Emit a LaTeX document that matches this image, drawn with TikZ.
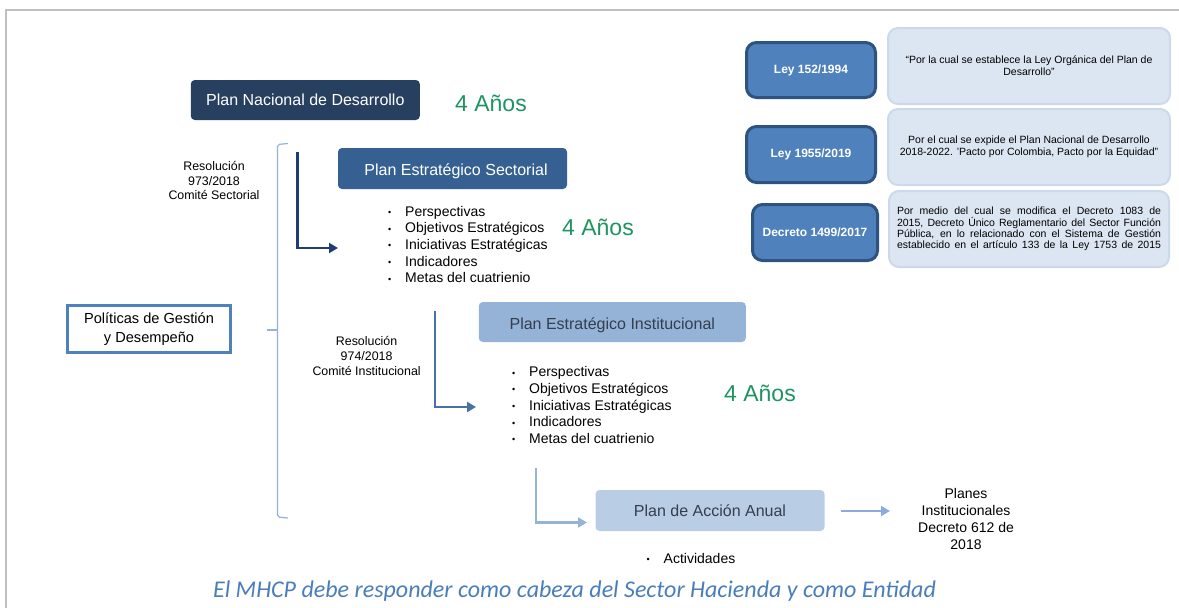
\documentclass[tikz,border=0pt]{standalone}
\usepackage{fontspec}
\setmainfont{Liberation Sans}
\newfontfamily\titlefont{Carlito}
\usetikzlibrary{arrows.meta}
\definecolor{framec}{HTML}{BFBFBF}
\definecolor{pndc}{HTML}{27405F}
\definecolor{pesc}{HTML}{376092}
\definecolor{peic}{HTML}{95B3D7}
\definecolor{paac}{HTML}{B9CDE5}
\definecolor{dtext}{HTML}{333F4F}
\definecolor{greenc}{HTML}{1E9461}
\definecolor{arrA}{HTML}{1F3C74}
\definecolor{arrB}{HTML}{4671AB}
\definecolor{arrC}{HTML}{95B3D7}
\definecolor{arrD}{HTML}{8FAADC}
\definecolor{bracec}{HTML}{95B3D7}
\definecolor{leyfill}{HTML}{4F81BD}
\definecolor{leyborder}{HTML}{2F5380}
\definecolor{descfill}{HTML}{DCE6F2}
\definecolor{descborder}{HTML}{CCD9EB}
\definecolor{polc}{HTML}{4F81BD}
\definecolor{titlec}{HTML}{4A7EBB}
\newcommand\mybul{\makebox[17pt][l]{\raisebox{0.6pt}{\fontsize{9}{9}\selectfont\char"2022}}}
\begin{document}
\begin{tikzpicture}[x=1pt,y=-1pt,
  planbox/.style={rectangle, rounded corners=4pt, inner sep=0pt, font=\fontsize{16}{19}\selectfont, minimum height=40pt},
  anos/.style={text=greenc, inner sep=0pt, font=\fontsize{23}{27}\selectfont},
  bullist/.style={anchor=west, inner sep=0pt, align=left, font=\fontsize{14}{16.6}\selectfont},
  restext/.style={inner sep=0pt, align=center, font=\fontsize{12.4}{14.8}\selectfont},
  arrowline/.style={line width=2.5pt, -{Triangle[length=9pt,width=10pt]}},
  leybox/.style={rectangle, rounded corners=10pt, fill=leyfill, draw=leyborder, line width=3pt, text=white, inner sep=0pt, font=\bfseries\fontsize{12}{14}\selectfont},
  descbox/.style={rectangle, rounded corners=10pt, fill=descfill, draw=descborder, line width=2pt, inner sep=0pt, align=center, font=\fontsize{10.5}{12}\selectfont}
]
\useasboundingbox (0,0) rectangle (1179,608);
\fill[white] (0,0) rectangle (1179,608);
\draw[framec, line width=2pt] (6,608) -- (6,10) -- (1179,10);

% main plan boxes
\node[planbox, fill=pndc, text=white, minimum width=229pt, text depth=1pt] (pnd) at (305.3,100) {Plan Nacional de Desarrollo};
\node[anos] (an1) at (491,103) {4 Años};

\node[planbox, fill=pesc, minimum width=229pt, minimum height=41pt] (pes) at (452.5,168.5) {};
\node[text=white, inner sep=0pt, font=\fontsize{16}{19}\selectfont] (pest) at (456,171) {Plan Estratégico Sectorial};
\node[bullist] (l1) at (388,244.5) {\mybul Perspectivas\\ \mybul Objetivos Estratégicos\\ \mybul Iniciativas Estratégicas\\ \mybul Indicadores\\ \mybul Metas del cuatrienio};
\node[anos] (an2) at (598,227) {4 Años};

\node[planbox, fill=peic, minimum width=267pt] (pei) at (612.3,322) {};
\node[text=dtext, inner sep=0pt, font=\fontsize{16}{19}\selectfont] (peit) at (612.3,325.5) {Plan Estratégico Institucional};
\node[bullist] (l2) at (512,405) {\mybul Perspectivas\\ \mybul Objetivos Estratégicos\\ \mybul Iniciativas Estratégicas\\ \mybul Indicadores\\ \mybul Metas del cuatrienio};
\node[anos] (an3) at (760,393) {4 Años};

\node[planbox, fill=paac, text=dtext, minimum width=229pt, minimum height=41pt] (paa) at (710,510.5) {Plan de Acción Anual};
\node[bullist] (l3) at (646.5,558) {\mybul Actividades};

\node[restext, font=\fontsize{14}{17}\selectfont] (planes) at (966,519) {Planes\\Institucionales\\Decreto 612 de\\2018};

\node[rectangle, draw=polc, fill=white, line width=3pt, minimum width=163pt, minimum height=47pt, inner sep=0pt, align=center, font=\fontsize{14.6}{18.3}\selectfont] (pol) at (149,329) {Políticas de Gestión\\y Desempeño};

\node[restext] (r1) at (214,180.5) {Resolución\\973/2018\\Comité Sectorial};
\node[restext] (r2) at (366.6,356) {Resolución\\974/2018\\Comité Institucional};

% brace
\draw[bracec, line width=1.2pt, rounded corners=2pt] (288,143.5) -- (277.5,144.5) -- (277.5,517) -- (288,518);
\draw[bracec, line width=1.2pt] (277.5,330) -- (267,330);

% arrows
\coordinate (a1s) at (297.5,152);
\coordinate (a1e) at (338,248);
\draw[arrowline, arrA] (a1s) |- (a1e);
\coordinate (a2s) at (435,311);
\coordinate (a2e) at (476,407);
\draw[arrowline, arrB] (a2s) |- (a2e);
\coordinate (a3s) at (536,468);
\coordinate (a3e) at (587,522.5);
\draw[arrowline, arrC, line width=2.2pt] (a3s) |- (a3e);
\coordinate (a4s) at (840.5,511);
\coordinate (a4e) at (890,511);
\draw[arrowline, arrD] (a4s) -- (a4e);

% right side legal boxes
\node[leybox, minimum width=129pt, minimum height=55pt] (ley1) at (811,70) {Ley 152/1994};
\node[leybox, minimum width=129pt, minimum height=56pt] (ley2) at (811,154.5) {Ley 1955/2019};
\node[leybox, minimum width=125pt, minimum height=56pt] (ley3) at (815,232.5) {Decreto 1499/2017};

\node[descbox, minimum width=282pt, minimum height=76pt] (d1) at (1029,66) {“Por la cual se establece la Ley Orgánica del Plan de\\Desarrollo”};
\node[descbox, minimum width=282pt, minimum height=76pt] (d2) at (1029,147) {Por el cual se expide el Plan Nacional de Desarrollo\\2018-2022. 'Pacto por Colombia, Pacto por la Equidad”};
\node[descbox, minimum width=280pt, minimum height=76pt, font=\fontsize{10.5}{11.3}\selectfont] (d3) at (1029,229) {\makebox[264pt][s]{Por medio del cual se modifica el Decreto 1083 de}\\\makebox[264pt][s]{2015, Decreto Único Reglamentario del Sector Función}\\\makebox[264pt][s]{Pública, en lo relacionado con el Sistema de Gestión}\\\makebox[264pt][s]{establecido en el artículo 133 de la Ley 1753 de 2015}};

% title
\node[text=titlec, inner sep=0pt, font=\titlefont\itshape\fontsize{24}{28}\selectfont] (title) at (574.5,591) {El MHCP debe responder como cabeza del Sector Hacienda y como Entidad};
\end{tikzpicture}
\end{document}
